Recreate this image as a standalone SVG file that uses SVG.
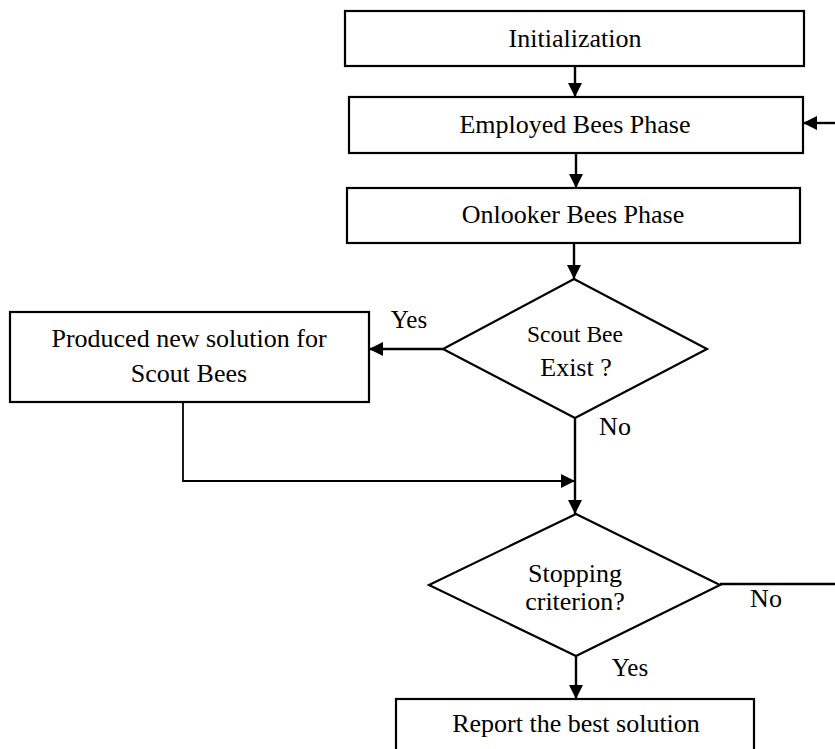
<svg xmlns="http://www.w3.org/2000/svg" width="835" height="749" viewBox="0 0 835 749">
<defs>
<marker id="ah" viewBox="0 0 14 14" markerWidth="14" markerHeight="14" refX="14" refY="7" orient="auto" markerUnits="userSpaceOnUse">
<path d="M0,0 L14,7 L0,14 Z" fill="#000"/>
</marker>
</defs>
<style>
.box{fill:#fff;stroke:#000;stroke-width:2.2}
.t{font-family:"Liberation Serif","Times New Roman",serif;font-size:26px;fill:#000;text-anchor:middle}
.s{font-size:23.5px}
.c{fill:none;stroke:#000;stroke-width:2.4}
.thin{fill:none;stroke:#000;stroke-width:1.8}
</style>
<rect width="835" height="749" fill="#fff"/>
<g id="connectors">
<line class="c" x1="575" y1="66" x2="575" y2="97" marker-end="url(#ah)"/>
<line class="c" x1="576" y1="153" x2="576" y2="188" marker-end="url(#ah)"/>
<line class="c" x1="574" y1="243" x2="574" y2="279" marker-end="url(#ah)"/>
<line class="c" x1="443" y1="349" x2="369" y2="349" marker-end="url(#ah)"/>
<line class="c" x1="575" y1="418" x2="575" y2="514" marker-end="url(#ah)"/>
<polyline class="thin" points="183,402 183,481 575,481" marker-end="url(#ah)"/>
<line class="c" x1="576" y1="656" x2="576" y2="699" marker-end="url(#ah)"/>
<line class="c" x1="720" y1="584" x2="835" y2="584"/>
<line class="c" x1="835" y1="123" x2="803" y2="123" marker-end="url(#ah)"/>
<text class="t" x="409" y="328" style="font-size:25px">Yes</text>
<text class="t" x="615" y="435">No</text>
<text class="t" x="766" y="607">No</text>
<text class="t" x="630" y="676" style="font-size:25px">Yes</text>
</g>
<g id="init">
<rect class="box" x="345" y="11" width="459" height="55"/>
<text class="t" x="575" y="47">Initialization</text>
</g>
<g id="employed">
<rect class="box" x="349" y="97" width="454" height="56"/>
<text class="t" x="575" y="133">Employed Bees Phase</text>
</g>
<g id="onlooker">
<rect class="box" x="347" y="188" width="453" height="55"/>
<text class="t" x="573" y="223">Onlooker Bees Phase</text>
</g>
<g id="scoutDecision">
<polygon class="box" points="574,279 707,349 575,418 443,349"/>
<text class="t s" x="575" y="342">Scout Bee</text>
<text class="t" x="576" y="376">Exist ?</text>
</g>
<g id="produce">
<rect class="box" x="10" y="312" width="359" height="90"/>
<text class="t" x="189" y="347">Produced new solution for</text>
<text class="t" x="189" y="382">Scout Bees</text>
</g>
<g id="stopDecision">
<polygon class="box" points="576,514 720,585 576,656 429,585"/>
<text class="t" x="575" y="582">Stopping</text>
<text class="t" x="575" y="610">criterion?</text>
</g>
<g id="report">
<rect class="box" x="396" y="699" width="358" height="70"/>
<text class="t" x="576" y="732">Report the best solution</text>
</g>
</svg>
